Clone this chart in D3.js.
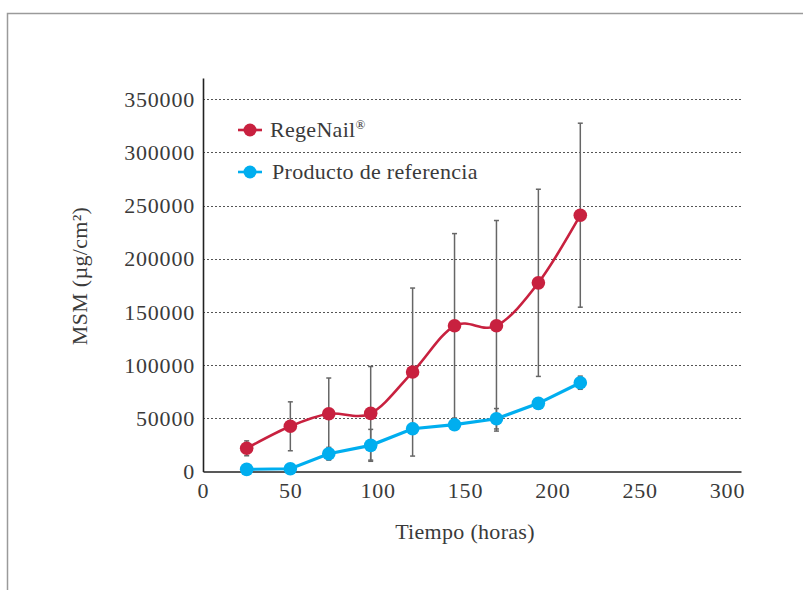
<!DOCTYPE html>
<html>
<head>
<meta charset="utf-8">
<script src="https://cdn.jsdelivr.net/npm/d3@7"></script>
<style>
  html, body { margin: 0; padding: 0; background: #fff; }
  svg { display: block; }
  text { font-family: "Liberation Serif", "DejaVu Serif", serif; fill: #3a3a3a; }
</style>
</head>
<body>
<svg id="chart" width="803" height="590"></svg>
<script>
// ---- Data ----
const hours = [25, 50, 72, 96, 120, 144, 168, 192, 216];
const regenail = [21800, 42500, 54300, 54700, 93500, 137000, 137000, 177400, 241000];
const regenailErr = [7000, 23000, 33600, 44000, 79000, 86700, 99000, 88000, 86500];
const referencia = [2000, 2600, 16700, 24600, 40200, 44000, 49600, 64100, 83500];
const referenciaErr = [1500, 1500, 6000, 15000, 5000, 4000, 9600, 5000, 6200];
const xTicks = [0, 50, 100, 150, 200, 250, 300];
const yTicks = [0, 50000, 100000, 150000, 200000, 250000, 300000, 350000];
const seriesNames = ["RegeNail", "Producto de referencia"];
const xTitle = "Tiempo (horas)";
const yTitle = "MSM (µg/cm²)";

const red = "#c8213f";
const blue = "#00aeef";

const svg = d3.select("#chart");

// frame
svg.append("path").attr("d", "M7.5,590 V13.5 H803")
  .attr("fill", "none").attr("stroke", "#9a9a9a").attr("stroke-width", 1.5);

const x = d3.scaleLinear().domain([0, 308]).range([203, 741]);
const y = d3.scaleLinear().domain([0, 370000]).range([471.5, 78]);

// grid
svg.append("g").selectAll("line").data(yTicks.filter(d => d > 0)).join("line")
  .attr("x1", x(0)).attr("x2", x(308))
  .attr("y1", d => Math.round(y(d)) + 0.5).attr("y2", d => Math.round(y(d)) + 0.5)
  .attr("stroke", "#555").attr("stroke-width", 1).attr("stroke-dasharray", "2,2");

const tickFont = g => g.selectAll("text").style("font-size", "22px").attr("fill", "#3a3a3a")
  .style("font-family", "'Liberation Serif', serif").style("letter-spacing", "0.8px");

// axes
const xAxis = d3.axisBottom(x).tickValues(xTicks).tickSize(0).tickPadding(11)
  .tickFormat(d3.format("d"));
const gx = svg.append("g").attr("transform", `translate(0,${y(0)})`).call(xAxis);
gx.select(".domain").attr("stroke", "#222").attr("stroke-width", 1.6);
tickFont(gx);

const yAxis = d3.axisLeft(y).tickValues(yTicks).tickSize(0).tickPadding(8)
  .tickFormat(d3.format("d"));
const gy = svg.append("g").attr("transform", `translate(${x(0)},0)`).call(yAxis);
gy.select(".domain").attr("stroke", "#222").attr("stroke-width", 1.6);
tickFont(gy);

// titles
svg.append("text").attr("x", 465).attr("y", 539).attr("text-anchor", "middle")
  .style("font-size", "22px").style("letter-spacing", "0.3px").text(xTitle);
svg.append("text").attr("transform", "translate(87,276) rotate(-90)")
  .attr("text-anchor", "middle").style("font-size", "22px").style("letter-spacing", "0.3px")
  .text(yTitle);

const series = [
  { name: seriesNames[0], sup: "®", vals: regenail, err: regenailErr, color: red,
    curve: d3.curveCatmullRom.alpha(0), width: 2.6 },
  { name: seriesNames[1], sup: "", vals: referencia, err: referenciaErr, color: blue,
    curve: d3.curveLinear, width: 3.2 }
];

// error bars
series.forEach(s => {
  const g = svg.append("g").attr("stroke", "#666").attr("stroke-width", 1.5);
  hours.forEach((h, i) => {
    const cx = x(h), top = y(s.vals[i] + s.err[i]), bot = y(s.vals[i] - s.err[i]);
    g.append("line").attr("x1", cx).attr("x2", cx).attr("y1", top).attr("y2", bot);
    g.append("line").attr("x1", cx - 2.5).attr("x2", cx + 2.5).attr("y1", top).attr("y2", top);
    g.append("line").attr("x1", cx - 2.5).attr("x2", cx + 2.5).attr("y1", bot).attr("y2", bot);
  });
});

// lines
series.forEach(s => {
  const line = d3.line().x((d, i) => x(hours[i])).y(d => y(d)).curve(s.curve);
  svg.append("path").datum(s.vals).attr("d", line)
    .attr("fill", "none").attr("stroke", s.color).attr("stroke-width", s.width);
});

// points
series.forEach(s => {
  svg.append("g").selectAll("circle").data(s.vals).join("circle")
    .attr("cx", (d, i) => x(hours[i])).attr("cy", d => y(d)).attr("r", 6.8)
    .attr("fill", s.color);
});

// legend
const legendY = [130, 172];
series.forEach((s, i) => {
  const g = svg.append("g");
  g.append("line").attr("x1", 238).attr("x2", 262).attr("y1", legendY[i]).attr("y2", legendY[i])
    .attr("stroke", s.color).attr("stroke-width", 2.6);
  g.append("circle").attr("cx", 250).attr("cy", legendY[i]).attr("r", 6.5).attr("fill", s.color);
  const t = g.append("text").attr("x", i === 0 ? 270 : 272).attr("y", legendY[i] + 7)
    .style("font-size", "22px").style("letter-spacing", "0.3px").text(s.name);
  if (s.sup) t.append("tspan").attr("dy", -8).style("font-size", "13px").text(s.sup);
});
</script>
</body>
</html>
